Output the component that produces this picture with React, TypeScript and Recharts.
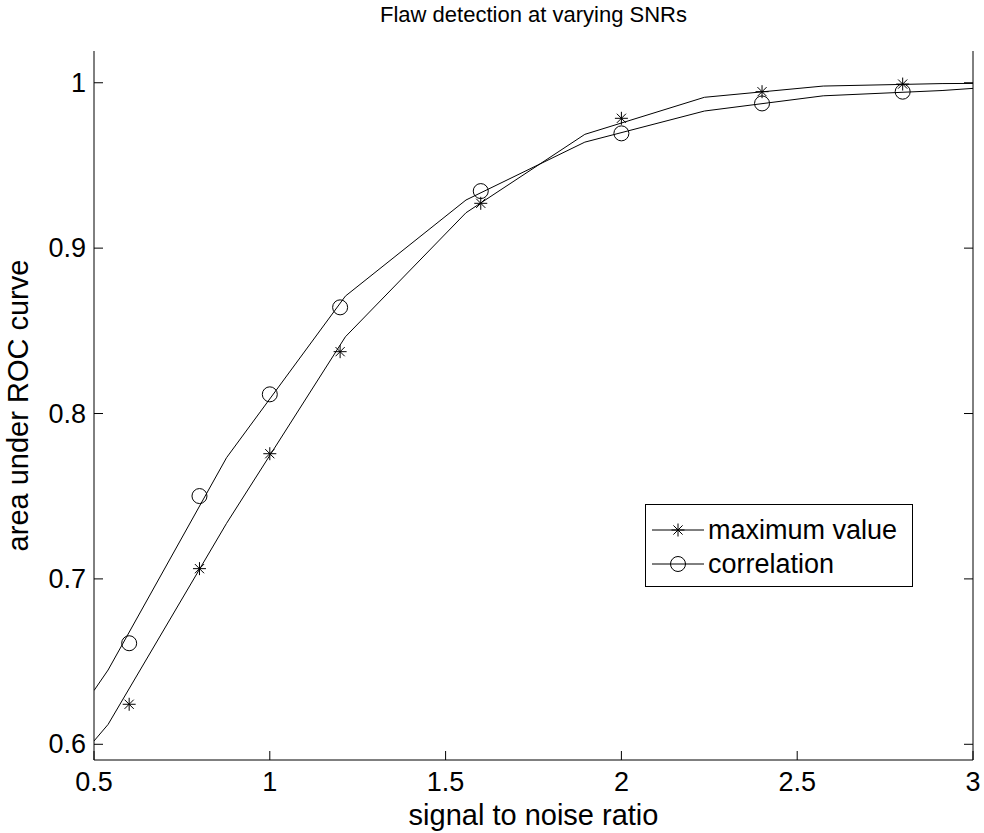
import React from "react";
import { ComposedChart, Line, Scatter, XAxis, YAxis, Label } from "recharts";

const FONT = "'Liberation Sans', Arial, Helvetica, sans-serif";

const title = "Flaw detection at varying SNRs";
const xLabel = "signal to noise ratio";
const yLabel = "area under ROC curve";
const seriesNames = ["maximum value", "correlation"];

const xTicks = [0.5, 1, 1.5, 2, 2.5, 3];
const yTicks = [0.6, 0.7, 0.8, 0.9, 1];
const xDomain = [0.5, 3];
const yDomain = [0.5905, 1.0192];

// measured points (markers)
const markerX = [0.6, 0.8, 1.0, 1.2, 1.6, 2.0, 2.4, 2.8];
const maxValuePts = [0.6242, 0.7062, 0.7757, 0.8374, 0.9271, 0.9785, 0.9946, 0.9992];
const correlationPts = [0.6611, 0.7501, 0.8116, 0.8642, 0.9345, 0.9694, 0.9875, 0.9946];

// fitted curve vertices (as visible)
const curveX = [0.5, 0.54, 0.877, 1.215, 1.558, 1.896, 2.236, 2.574, 2.912, 3.0];
const maxValueCurve = [0.602, 0.612, 0.7336, 0.8464, 0.9214, 0.9688, 0.9912, 0.998, 0.9995, 0.9996];
const correlationCurve = [0.6325, 0.6449, 0.7733, 0.871, 0.9291, 0.9641, 0.9829, 0.9921, 0.9953, 0.9966];

const toPts = (xs: number[], ys: number[]) => xs.map((x, i) => ({ x, y: ys[i] }));

const maxMarkers = toPts(markerX, maxValuePts);
const corrMarkers = toPts(markerX, correlationPts);
const maxCurve = toPts(curveX, maxValueCurve);
const corrCurve = toPts(curveX, correlationCurve);

const TICK_LEN = 9;

const StarShape = (props: any) => {
  const { cx, cy } = props;
  if (cx == null || cy == null) return null;
  const r = 6.5;
  const d = 4.6;
  return (
    <g stroke="#000" strokeWidth={1}>
      <line x1={cx - r} y1={cy} x2={cx + r} y2={cy} />
      <line x1={cx} y1={cy - r} x2={cx} y2={cy + r} />
      <line x1={cx - d} y1={cy - d} x2={cx + d} y2={cy + d} />
      <line x1={cx - d} y1={cy + d} x2={cx + d} y2={cy - d} />
    </g>
  );
};

const CircleShape = (props: any) => {
  const { cx, cy } = props;
  if (cx == null || cy == null) return null;
  return <circle cx={cx} cy={cy} r={7.5} fill="none" stroke="#000" strokeWidth={1} />;
};

const BottomTick = (props: any) => {
  const { x, y, payload } = props;
  return (
    <g>
      <line x1={x} y1={y} x2={x} y2={y - TICK_LEN} stroke="#000" strokeWidth={1} />
      <text x={x} y={y + 22} textAnchor="middle" dominantBaseline="central" fontSize={27} fontFamily={FONT} fill="#000">
        {payload.value}
      </text>
    </g>
  );
};

const TopTick = (props: any) => {
  const { x, y } = props;
  return <line x1={x} y1={y} x2={x} y2={y + TICK_LEN} stroke="#000" strokeWidth={1} />;
};

const LeftTick = (props: any) => {
  const { x, y, payload } = props;
  return (
    <g>
      <line x1={x} y1={y} x2={x + TICK_LEN} y2={y} stroke="#000" strokeWidth={1} />
      <text x={x - 8} y={y} textAnchor="end" dominantBaseline="central" fontSize={27} fontFamily={FONT} fill="#000">
        {payload.value}
      </text>
    </g>
  );
};

const RightTick = (props: any) => {
  const { x, y } = props;
  return <line x1={x} y1={y} x2={x - TICK_LEN} y2={y} stroke="#000" strokeWidth={1} />;
};

const LegendBox = () => {
  const rows = [
    { name: seriesNames[0], shape: "star" },
    { name: seriesNames[1], shape: "circle" },
  ];
  return (
    <div
      style={{
        position: "absolute",
        left: 645,
        top: 504,
        width: 268,
        height: 83,
        border: "1px solid #000",
        background: "#fff",
        boxSizing: "border-box",
      }}
    >
      <svg width={266} height={81} style={{ position: "absolute", left: 0, top: 0 }}>
        {rows.map((r, i) => {
          const cy = 25 + i * 34;
          return (
            <g key={r.name}>
              <line x1={6} y1={cy} x2={58} y2={cy} stroke="#000" strokeWidth={1} />
              {r.shape === "star" ? <StarShape cx={32} cy={cy} /> : <CircleShape cx={32} cy={cy} />}
              <text x={62} y={cy} dominantBaseline="central" fontSize={27} fontFamily={FONT} fill="#000">
                {r.name}
              </text>
            </g>
          );
        })}
      </svg>
    </div>
  );
};

export default function App() {
  return (
    <div style={{ position: "absolute", left: 0, top: 0, width: 984, height: 833, background: "#fff" }}>
      <div
        style={{
          position: "absolute",
          left: 94,
          width: 879,
          top: 2,
          textAlign: "center",
          fontFamily: FONT,
          fontSize: 22,
          color: "#000",
          lineHeight: "25px",
        }}
      >
        {title}
      </div>
      <ComposedChart width={984} height={833} margin={{ top: 51, right: 0, bottom: 0, left: 0 }}>
        <XAxis
          xAxisId="b"
          dataKey="x"
          type="number"
          orientation="bottom"
          domain={xDomain}
          ticks={xTicks}
          allowDataOverflow
          height={73}
          tickSize={0}
          tickMargin={0}
          tickLine={false}
          tick={<BottomTick />}
          axisLine={{ stroke: "#000", strokeWidth: 1 }}
        >
          <Label
            content={(p: any) => {
              const vb = p.viewBox || {};
              return (
                <text
                  x={vb.x + vb.width / 2}
                  y={vb.y + 55}
                  textAnchor="middle"
                  dominantBaseline="central"
                  fontSize={29}
                  fontFamily={FONT}
                  fill="#000"
                >
                  {xLabel}
                </text>
              );
            }}
          />
        </XAxis>
        <XAxis
          xAxisId="t"
          dataKey="x"
          type="number"
          orientation="top"
          domain={xDomain}
          ticks={xTicks}
          allowDataOverflow
          height={0}
          tickSize={0}
          tickMargin={0}
          tickLine={false}
          tick={<TopTick />}
          axisLine={{ stroke: "#000", strokeWidth: 1 }}
        />
        <YAxis
          yAxisId="l"
          type="number"
          orientation="left"
          domain={yDomain}
          ticks={yTicks}
          allowDataOverflow
          width={94}
          tickSize={0}
          tickMargin={0}
          tickLine={false}
          tick={<LeftTick />}
          axisLine={{ stroke: "#000", strokeWidth: 1 }}
        >
          <Label
            content={(p: any) => {
              const vb = p.viewBox || {};
              const cx = 18;
              const cy = vb.y + vb.height / 2;
              return (
                <text
                  x={cx}
                  y={cy}
                  transform={`rotate(-90 ${cx} ${cy})`}
                  textAnchor="middle"
                  dominantBaseline="central"
                  fontSize={29}
                  fontFamily={FONT}
                  fill="#000"
                >
                  {yLabel}
                </text>
              );
            }}
          />
        </YAxis>
        <YAxis
          yAxisId="r"
          type="number"
          orientation="right"
          domain={yDomain}
          ticks={yTicks}
          allowDataOverflow
          width={11}
          tickSize={0}
          tickMargin={0}
          tickLine={false}
          tick={<RightTick />}
          axisLine={{ stroke: "#000", strokeWidth: 1 }}
        />
        <Line
          xAxisId="b"
          yAxisId="l"
          data={maxCurve}
          dataKey="y"
          type="linear"
          stroke="#000"
          strokeWidth={1}
          dot={false}
          activeDot={false}
          isAnimationActive={false}
          legendType="none"
        />
        <Line
          xAxisId="b"
          yAxisId="l"
          data={corrCurve}
          dataKey="y"
          type="linear"
          stroke="#000"
          strokeWidth={1}
          dot={false}
          activeDot={false}
          isAnimationActive={false}
          legendType="none"
        />
        <Scatter
          xAxisId="b"
          yAxisId="l"
          name={seriesNames[0]}
          data={maxMarkers}
          dataKey="y"
          shape={<StarShape />}
          isAnimationActive={false}
        />
        <Scatter
          xAxisId="b"
          yAxisId="l"
          name={seriesNames[1]}
          data={corrMarkers}
          dataKey="y"
          shape={<CircleShape />}
          isAnimationActive={false}
        />
      </ComposedChart>
      <LegendBox />
    </div>
  );
}
